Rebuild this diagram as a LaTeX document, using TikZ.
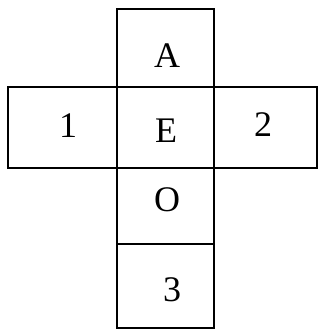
\documentclass[tikz,border=0pt]{standalone}
\usepackage{fontspec}
\setmainfont{Liberation Serif}
\usetikzlibrary{positioning}

\begin{document}
\begin{tikzpicture}[
    x=1pt, y=-1pt,
    face/.style={draw, line width=1.8pt},
    lbl/.style={font=\fontsize{36}{36}\selectfont, inner sep=0pt},
]
\useasboundingbox (0,0) rectangle (320,334);

% column of faces
\draw[face] (117,9) rectangle (214,87);
\draw[face] (117,87) rectangle (214,168);
\draw[face] (117,168) rectangle (214,244);
\draw[face] (117,244) rectangle (214,328);
% side faces
\draw[face] (8,87) rectangle (117,168);
\draw[face] (214,87) rectangle (317,168);

\node[lbl] (fa) at (167,56) {A};
\node[lbl] (fe) at (166,131) {E};
\node[lbl] (fo) at (167,200) {O};
\node[lbl] (f3) at (172,290) {3};
\node[lbl] (f1) at (68,126) {1};
\node[lbl] (f2) at (263,125) {2};
\end{tikzpicture}
\end{document}
